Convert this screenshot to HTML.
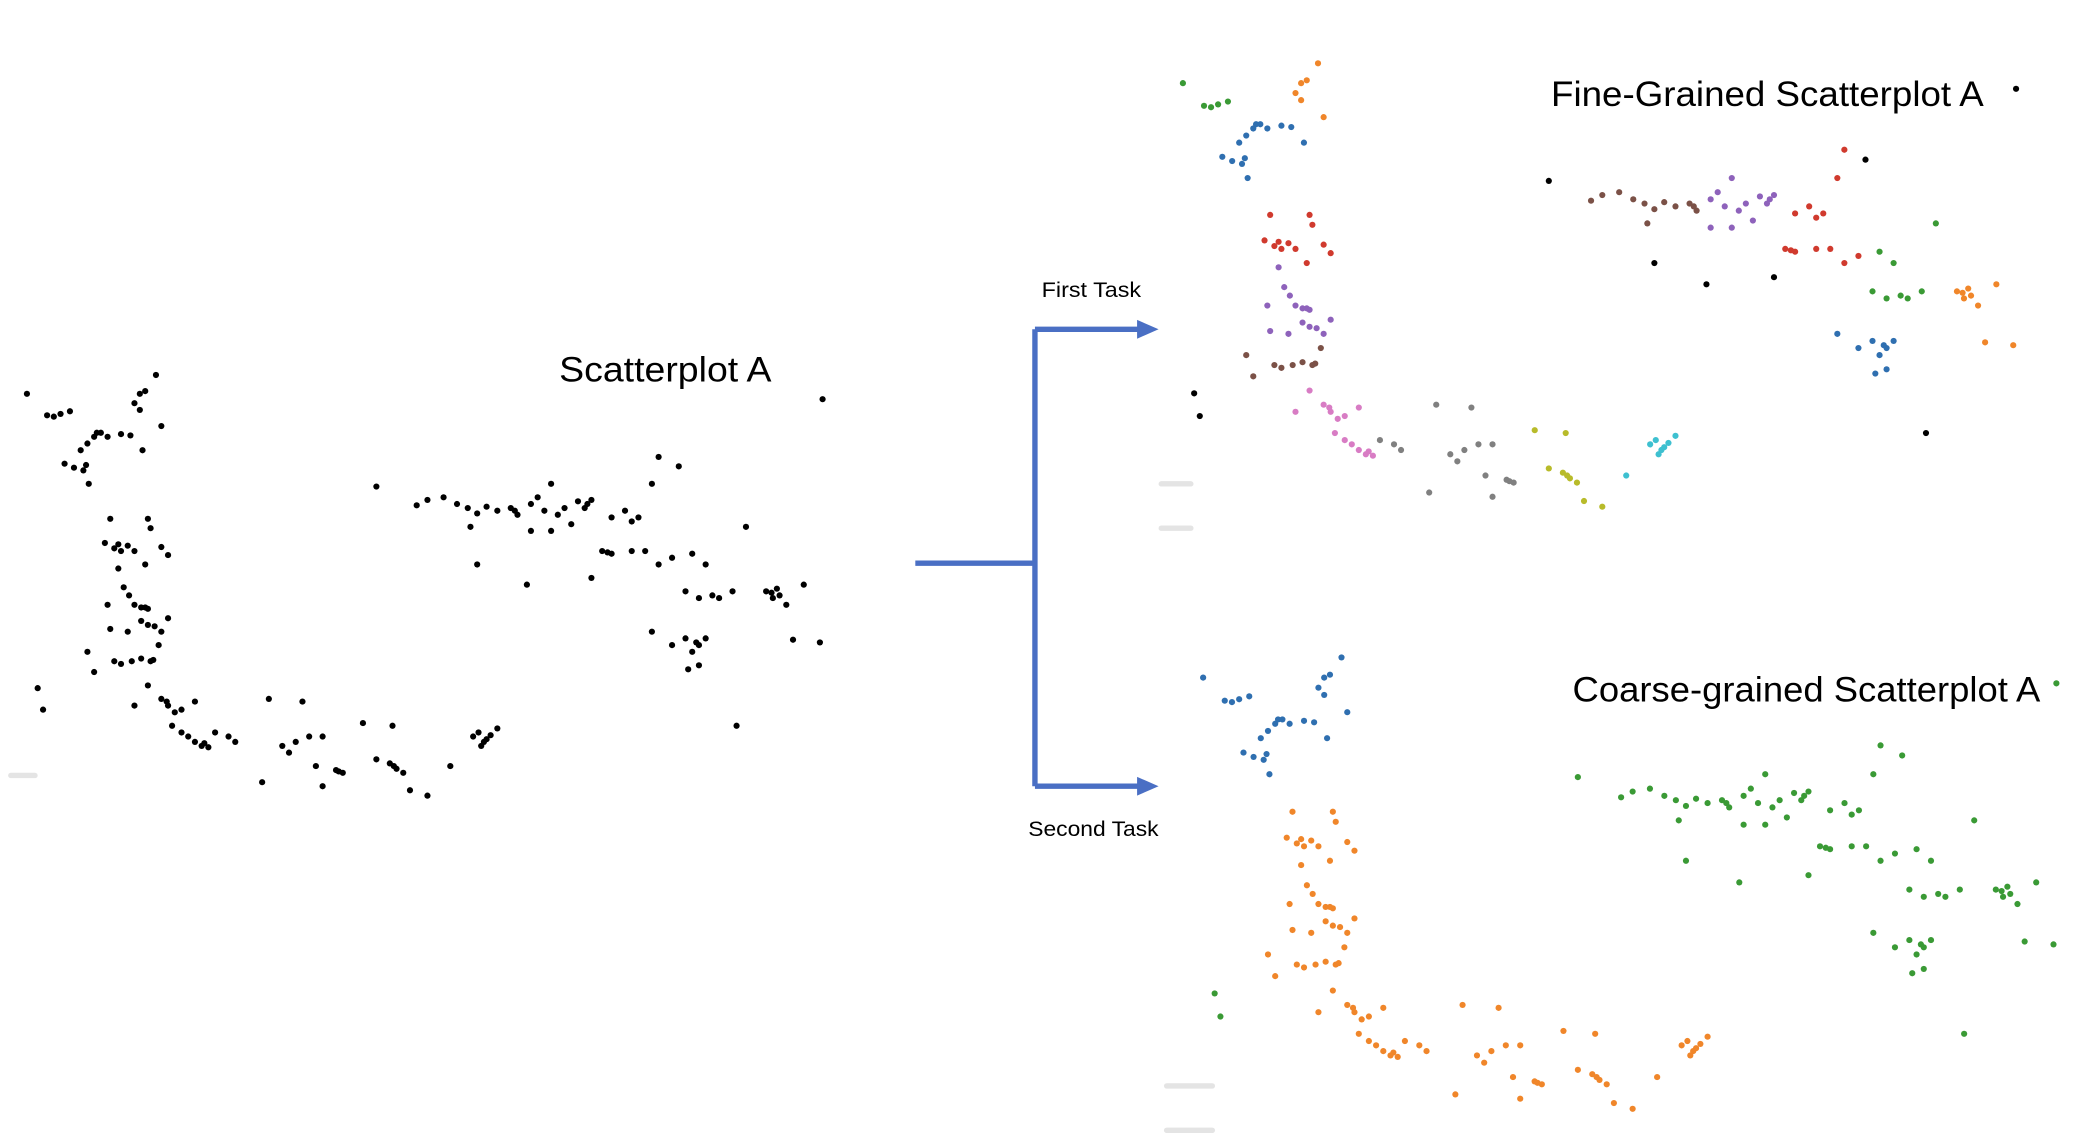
<!DOCTYPE html>
<html><head><meta charset="utf-8"><style>
html,body{margin:0;padding:0;background:#fff;}
svg{display:block;}
text{font-family:"Liberation Sans",sans-serif;fill:#000;}
</style></head><body>
<svg id="fig" width="2086" height="1142" viewBox="0 0 1552 849.7" xmlns="http://www.w3.org/2000/svg">
<rect width="1552" height="850" fill="#fff"/>
<g id="arrows" stroke="#4a6fc4" stroke-width="4" fill="none">
<path d="M681 419 H770 M770 245 V585 M770 245 H848 M770 585 H848"/>
</g>
<polygon points="846,238 862,245 846,252" fill="#4a6fc4"/>
<polygon points="846,578 862,585 846,592" fill="#4a6fc4"/>
<text x="775" y="221" font-size="16" textLength="74" lengthAdjust="spacingAndGlyphs">First Task</text>
<text x="765" y="622" font-size="16" textLength="97" lengthAdjust="spacingAndGlyphs">Second Task</text>
<text x="416" y="284" font-size="26" textLength="158" lengthAdjust="spacingAndGlyphs">Scatterplot A</text>
<text x="1154" y="79" font-size="26" textLength="322" lengthAdjust="spacingAndGlyphs">Fine-Grained Scatterplot A</text>
<text x="1170" y="522" font-size="26" textLength="348" lengthAdjust="spacingAndGlyphs">Coarse-grained Scatterplot A</text>
<g fill="#e4e4e4">
<rect x="6" y="575" width="22" height="4" rx="2"/>
<rect x="862" y="358" width="26" height="4" rx="2"/>
<rect x="862" y="391" width="26" height="4" rx="2"/>
<rect x="866" y="806" width="38" height="4" rx="2"/>
<rect x="866" y="839" width="38" height="4" rx="2"/>
</g>
<g id="plotA"></g>
<g id="plotF"></g>
<g id="plotC"></g>
</svg>
<script>
// cluster point data (base coordinates of Scatterplot A)
const clGreen1 = [[20,293],[35,309],[40,310],[45,308],[52,306]];
const clOrange1 = [[100,300],[104,293],[108,291],[116,279],[120,317],[104,305]];
const clBlue1 = [[70,325],[72,322],[75,322],[80,325],[90,323],[97,324],[65,330],[60,335],[48,345],[55,348],[62,350],[66,360],[106,335],[64,346]];
const clRed1 = [[82,386],[110,386],[112,393],[78,404],[85,408],[90,410],[95,406],[100,410],[120,407],[125,413],[108,420],[88,405]];
const clPurple1 = [[88,423],[92,437],[96,443],[100,450],[105,452],[110,453],[80,450],[82,468],[105,462],[110,465],[115,466],[120,470],[125,460],[95,470],[108,452]];
const clBrown1 = [[65,485],[85,492],[90,494],[98,492],[105,490],[112,492],[118,480],[70,500],[114,491]];
const clPink = [[100,525],[120,520],[125,525],[130,530],[135,528],[145,522],[128,540],[135,545],[140,548],[145,552],[150,555],[155,556],[110,510],[152,553],[124,522]];
const clGray = [[160,545],[170,548],[175,552],[200,520],[210,555],[215,560],[220,552],[230,548],[240,548],[225,522],[235,570],[250,573],[255,575],[195,582],[240,585],[252,574]];
const clOlive = [[270,538],[280,565],[290,568],[295,572],[300,575],[305,588],[318,592],[292,540],[293,570]];
const clCyan = [[335,570],[352,548],[356,545],[360,552],[365,547],[370,542],[358,555],[362,550]];
const clBrown2 = [[310,376],[318,372],[330,370],[340,375],[348,378],[355,382],[362,377],[370,380],[380,378],[385,383],[350,392],[383,380]];
const clPurple2 = [[395,375],[400,370],[410,360],[405,380],[415,383],[420,378],[430,373],[435,378],[440,372],[425,390],[410,395],[395,395],[437,375]];
const clRed2 = [[455,385],[465,380],[470,388],[475,385],[485,360],[490,340],[448,410],[455,412],[470,410],[480,410],[490,420],[500,415],[452,411]];
const clGreen2 = [[510,440],[520,445],[530,443],[535,445],[545,440],[555,392],[515,412],[525,420]];
const clOrange2 = [[570,440],[575,445],[578,438],[580,443],[585,450],[598,435],[610,478],[590,476],[574,441]];
const clBlue2 = [[485,470],[500,480],[510,475],[515,485],[520,480],[525,475],[512,498],[520,495],[518,478]];
const clNoise = [[28,512],[32,528],[280,362],[548,540],[612,297],[355,420],[392,435],[440,430],[505,347]];

const clusters = [clGreen1,clOrange1,clBlue1,clRed1,clPurple1,clBrown1,clPink,clGray,clOlive,clCyan,clBrown2,clPurple2,clRed2,clGreen2,clOrange2,clBlue2,clNoise];
const fineColors = ["#3a9a35","#f0862a","#2f6fb0","#d03a2e","#8e62bb","#7b5147","#d87cc4","#808080","#b8bb2a","#3ec0d0","#7b5147","#8e62bb","#d03a2e","#3a9a35","#f0862a","#2f6fb0","#000000"];
const coarseColors = ["#2f6fb0","#2f6fb0","#2f6fb0","#f0862a","#f0862a","#f0862a","#f0862a","#f0862a","#f0862a","#f0862a","#3a9a35","#3a9a35","#3a9a35","#3a9a35","#3a9a35","#3a9a35","#3a9a35"];

const NS="http://www.w3.org/2000/svg";
function makeAxis(d0,d1,r0,r1){return v=>r0+(v-d0)*(r1-r0)/(d1-d0);}
function draw(gid,xS,yS,colorFn,r){
  const g=document.getElementById(gid);
  clusters.forEach((cl,ci)=>{
    cl.forEach(p=>{
      const c=document.createElementNS(NS,"circle");
      c.setAttribute("cx",xS(p[0]));c.setAttribute("cy",yS(p[1]));
      c.setAttribute("r",r);c.setAttribute("fill",colorFn(ci));
      
      
      g.appendChild(c);
    });
  });
}
draw("plotA",makeAxis(18,612,18,612),makeAxis(277,592,277,592),()=>"#000",2.3);
draw("plotF",makeAxis(18,612,878,1500),makeAxis(277,592,45,377),i=>fineColors[i],2.3);
draw("plotC",makeAxis(18,612,893,1530),makeAxis(277,592,487,825),i=>coarseColors[i],2.3);
</script>
</body></html>
